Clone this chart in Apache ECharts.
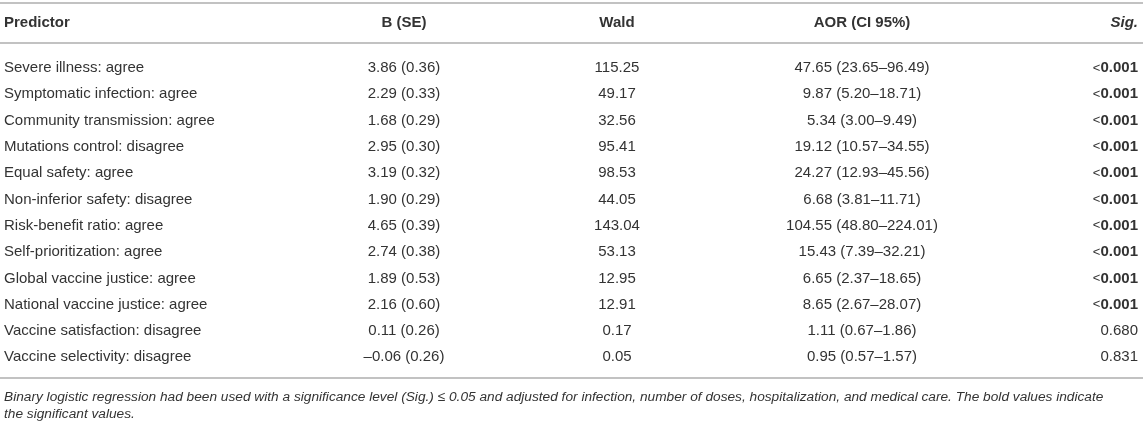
<!DOCTYPE html>
<html>
<head>
<meta charset="utf-8">
<script src="https://cdn.jsdelivr.net/npm/echarts@6/dist/echarts.min.js"></script>
<style>
  html, body { margin: 0; padding: 0; background: #fff; }
  #main { width: 1143px; height: 426px; }
</style>
</head>
<body>
<div id="main"></div>
<script>
var headers = ['Predictor', 'B (SE)', 'Wald', 'AOR (CI 95%)', 'Sig.'];
var predictors = [
    'Severe illness: agree', 'Symptomatic infection: agree', 'Community transmission: agree',
    'Mutations control: disagree', 'Equal safety: agree', 'Non-inferior safety: disagree',
    'Risk-benefit ratio: agree', 'Self-prioritization: agree', 'Global vaccine justice: agree',
    'National vaccine justice: agree', 'Vaccine satisfaction: disagree', 'Vaccine selectivity: disagree'
];
var bse = ['3.86 (0.36)', '2.29 (0.33)', '1.68 (0.29)', '2.95 (0.30)', '3.19 (0.32)', '1.90 (0.29)',
    '4.65 (0.39)', '2.74 (0.38)', '1.89 (0.53)', '2.16 (0.60)', '0.11 (0.26)', '\u20130.06 (0.26)'];
var wald = ['115.25', '49.17', '32.56', '95.41', '98.53', '44.05',
    '143.04', '53.13', '12.95', '12.91', '0.17', '0.05'];
var aor = ['47.65 (23.65\u201396.49)', '9.87 (5.20\u201318.71)', '5.34 (3.00\u20139.49)',
    '19.12 (10.57\u201334.55)', '24.27 (12.93\u201345.56)', '6.68 (3.81\u201311.71)',
    '104.55 (48.80\u2013224.01)', '15.43 (7.39\u201332.21)', '6.65 (2.37\u201318.65)',
    '8.65 (2.67\u201328.07)', '1.11 (0.67\u20131.86)', '0.95 (0.57\u20131.57)'];
var sig = ['<0.001', '<0.001', '<0.001', '<0.001', '<0.001', '<0.001',
    '<0.001', '<0.001', '<0.001', '<0.001', '0.680', '0.831'];
var note = [
    'Binary logistic regression had been used with a significance level (Sig.) \u2264 0.05 and adjusted for infection, number of doses, hospitalization, and medical care. The bold values indicate',
    'the significant values.'
];

var myChart = echarts.init(document.getElementById('main'));

var ink = '#333';
var rule = '#c2c2c2';
var face = '"Liberation Sans", Arial, Helvetica, sans-serif';
// column anchors: left edge for predictor, centre for middle cols, right edge for sig
var colX = [4, 404, 617, 862, 1138];
var colAlign = ['left', 'center', 'center', 'center', 'right'];
var headY = 23, rowY0 = 68, rowStep = 26.3;

function txt(s, x, y, align, font) {
    return {
        type: 'text',
        style: { text: s, x: x, y: y, align: align, verticalAlign: 'middle', font: font, fill: ink }
    };
}
function hline(y) {
    return { type: 'line', shape: { x1: 0, y1: y, x2: 1143, y2: y }, style: { stroke: rule, lineWidth: 2 } };
}

var els = [hline(3), hline(43), hline(378)];

headers.forEach(function (h, c) {
    var f = (c === 4 ? 'italic ' : '') + 'bold 15px ' + face;
    els.push(txt(h, colX[c], headY, colAlign[c], f));
});

predictors.forEach(function (p, i) {
    var y = rowY0 + i * rowStep;
    var f = '15px ' + face;
    els.push(txt(p, colX[0], y, 'left', f));
    els.push(txt(bse[i], colX[1], y, 'center', f));
    els.push(txt(wald[i], colX[2], y, 'center', f));
    els.push(txt(aor[i], colX[3], y, 'center', f));
    // bold p-values for the significant rows, '<' kept light
    if (sig[i].charAt(0) === '<') {
        els.push({
            type: 'text',
            style: {
                text: '{n|<}{b|' + sig[i].slice(1) + '}',
                x: colX[4], y: y, align: 'right', verticalAlign: 'middle',
                rich: {
                    n: { font: '13px ' + face, fill: ink },
                    b: { font: 'bold 15px ' + face, fill: ink }
                }
            }
        });
    } else {
        els.push(txt(sig[i], colX[4], y, 'right', f));
    }
});

note.forEach(function (line, k) {
    els.push(txt(line, 4, 397 + k * 17, 'left', 'italic 13.7px ' + face));
});

var option = {
    backgroundColor: '#fff',
    animation: false,
    graphic: { elements: els }
};
myChart.setOption(option);
</script>
</body>
</html>
